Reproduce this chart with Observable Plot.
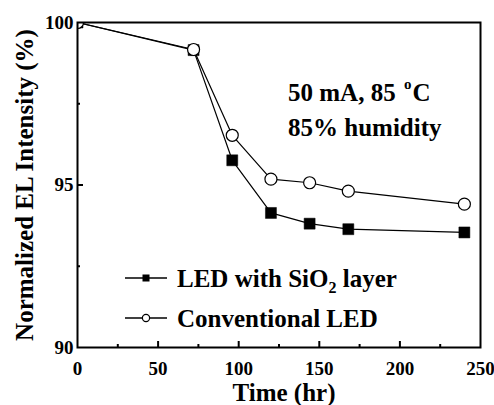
<!DOCTYPE html>
<html>
<head>
<meta charset="utf-8">
<script src="https://cdn.jsdelivr.net/npm/d3@7"></script>
<script src="https://cdn.jsdelivr.net/npm/@observablehq/plot@0.6"></script>
<style>
  html, body { margin: 0; padding: 0; background: #fff; }
  #wrap { position: relative; width: 494px; height: 405px; font-family: "Liberation Serif", "DejaVu Serif", "Times New Roman", serif; font-weight: bold; color: #000; }
  #wrap svg text { font-family: "Liberation Serif", "DejaVu Serif", "Times New Roman", serif; }
  .ann { position: absolute; left: 288px; top: 77px; font-size: 25px; line-height: 31px; white-space: nowrap; }
  .ann .sup { font-size: 15px; position: relative; top: -12px; margin-left: 2px; margin-right: 1px; }
  .leg { position: absolute; left: 177px; font-size: 25px; line-height: 30px; white-space: nowrap; }
  .leg .sub { font-size: 16px; position: relative; top: 6px; }
  #sw { position: absolute; left: 122px; top: 258px; }
</style>
</head>
<body>
<div id="wrap"></div>
<script>
// Data
const time = [0, 72, 96, 120, 144, 168, 240];
const sio2 = [100, 99.15, 95.76, 94.14, 93.81, 93.64, 93.54];
const conventional = [100, 99.17, 96.53, 95.18, 95.07, 94.81, 94.41];

const seriesNames = ["LED with SiO2 layer", "Conventional LED"];
const xTickValues = [0, 50, 100, 150, 200, 250];
const yTickValues = [90, 95, 100];
const xMajorInner = [50, 100, 150, 200];
const xMinorInner = [25, 75, 125, 175, 225];
const yMajorInner = [95];
const yMinorInner = [92.5, 97.5];

const xLabel = "Time (hr)";
const yLabel = "Normalized EL Intensity (%)";

const rowsSi = time.map((t, i) => ({t, v: sio2[i]}));
const rowsConv = time.map((t, i) => ({t, v: conventional[i]}));

const serif = '"Liberation Serif", "DejaVu Serif", "Times New Roman", serif';

const chart = Plot.plot({
  width: 494,
  height: 405,
  marginLeft: 77,
  marginRight: 14,
  marginTop: 22,
  marginBottom: 58,
  style: {fontFamily: serif, fontWeight: "bold", background: "white", color: "black", overflow: "visible"},
  x: {domain: [0, 250]},
  y: {domain: [90, 100]},
  marks: [
    Plot.axisX({ticks: xTickValues, tickSize: 0, tickPadding: 14, fontSize: 19, label: null, tickFormat: d => String(d)}),
    Plot.axisY({ticks: yTickValues, tickSize: 0, tickPadding: 4, fontSize: 19, label: null, tickFormat: d => String(d)}),
    Plot.tickX(xMajorInner, {x: d => d, insetTop: 319, stroke: "black", strokeWidth: 2}),
    Plot.tickX(xMinorInner, {x: d => d, insetTop: 322, stroke: "black", strokeWidth: 2}),
    Plot.tickY(yMajorInner, {y: d => d, insetRight: 397, stroke: "black", strokeWidth: 2}),
    Plot.tickY(yMinorInner, {y: d => d, insetRight: 400, stroke: "black", strokeWidth: 2}),
    Plot.line(rowsSi, {x: "t", y: "v", stroke: "black", strokeWidth: 1.2, clip: true}),
    Plot.line(rowsConv, {x: "t", y: "v", stroke: "black", strokeWidth: 1.2, clip: true}),
    Plot.dot(rowsSi, {x: "t", y: "v", symbol: "square", r: 6.2, fill: "black", stroke: "black", strokeWidth: 0.5, clip: true}),
    Plot.dot(rowsConv, {x: "t", y: "v", symbol: "circle", r: 6, fill: "white", stroke: "black", strokeWidth: 1.2, clip: true}),
    Plot.frame({stroke: "black", strokeWidth: 2}),
    Plot.text([xLabel], {frameAnchor: "bottom", textAnchor: "middle", lineAnchor: "middle", dx: 5, dy: 45, fontSize: 25, fill: "black"}),
    Plot.text([yLabel], {frameAnchor: "left", textAnchor: "middle", lineAnchor: "middle", rotate: -90, dx: -53, fontSize: 25, fill: "black"})
  ]
});

const wrap = document.getElementById("wrap");
wrap.appendChild(chart);

// annotation
const ann = document.createElement("div");
ann.className = "ann";
ann.innerHTML = '50 mA, 85 <span class="sup">o</span>C<br>85% humidity';
wrap.appendChild(ann);

// legend
const sw = document.createElementNS("http://www.w3.org/2000/svg", "svg");
sw.setAttribute("id", "sw");
sw.setAttribute("width", "50");
sw.setAttribute("height", "80");
sw.innerHTML =
  '<line x1="3" x2="45" y1="20" y2="20" stroke="black" stroke-width="1.5"/>' +
  '<rect x="20.5" y="16.5" width="7" height="7" fill="black"/>' +
  '<line x1="3" x2="45" y1="60" y2="60" stroke="black" stroke-width="1.5"/>' +
  '<circle cx="24" cy="60" r="3.6" fill="white" stroke="black" stroke-width="1.2"/>';
wrap.appendChild(sw);

const l1 = document.createElement("div");
l1.className = "leg";
l1.style.top = "264px";
l1.innerHTML = 'LED with SiO<span class="sub">2</span> layer';
wrap.appendChild(l1);
const l2 = document.createElement("div");
l2.className = "leg";
l2.style.top = "304px";
l2.textContent = seriesNames[1];
wrap.appendChild(l2);
</script>
</body>
</html>
